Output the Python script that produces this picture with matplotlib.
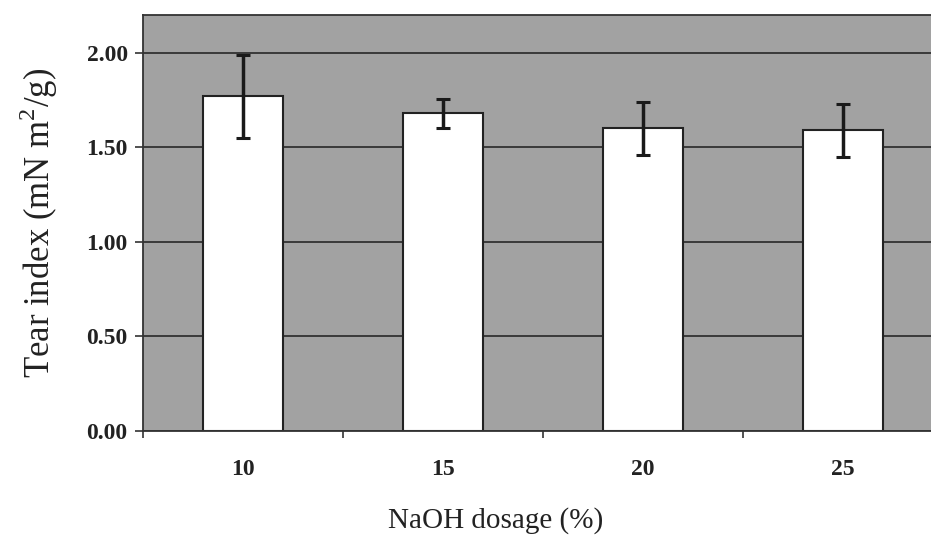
#!/usr/bin/env python3
# -*- coding: utf-8 -*-

import numpy as np
import matplotlib
matplotlib.use('Agg')
import matplotlib.pyplot as plt
from matplotlib.ticker import FixedLocator

# data
dosage = ['10', '15', '20', '25']
tear_index = [1.77, 1.68, 1.60, 1.59]
tear_err = [0.22, 0.075, 0.14, 0.14]
y_ticks = [0.0, 0.5, 1.0, 1.5, 2.0]


def main():
    plt.rcParams['font.family'] = ['Liberation Serif', 'DejaVu Serif']
    plt.rcParams['mathtext.fontset'] = 'custom'
    plt.rcParams['mathtext.rm'] = 'Liberation Serif'

    fig = plt.figure(figsize=(9.31, 5.42), dpi=100)
    ax = fig.add_axes([143 / 931, 111 / 542, 1 - 143 / 931, 416 / 542])
    ax.set_facecolor('#a2a2a2')

    x = np.arange(len(dosage))
    ax.set_axisbelow(True)
    ax.yaxis.grid(True, color='#1e1e1e', lw=1.1)
    ax.bar(x, tear_index, width=0.4, color='white', edgecolor='#222222',
           lw=1.5, zorder=2)
    ax.errorbar(x, tear_index, yerr=tear_err, fmt='none', ecolor='#1a1a1a',
                elinewidth=2.5, capsize=5, capthick=2.2, zorder=3)

    ax.set_xlim(-0.5, -0.5 + (931 - 143) / 200)
    ax.set_ylim(0, 2.2)
    ax.set_yticks(y_ticks)
    ax.set_yticklabels(['%.2f' % v for v in y_ticks], fontsize=17,
                       fontweight='bold', color='#222222')
    ax.set_xticks(x)
    ax.set_xticklabels(dosage, fontsize=17, fontweight='bold',
                       color='#222222')
    ax.xaxis.set_minor_locator(FixedLocator([-0.5, 0.5, 1.5, 2.5]))
    ax.tick_params(axis='x', which='major', length=0, pad=20)
    ax.tick_params(axis='x', which='minor', length=5, width=1.2,
                   color='#333333', direction='out')
    ax.tick_params(axis='y', length=6, width=1.2, color='#333333', pad=5)

    for s in ['left', 'bottom', 'top']:
        ax.spines[s].set_color('#333333')
        ax.spines[s].set_linewidth(1.3)
    ax.spines['right'].set_visible(False)

    ax.set_ylabel('Tear index (mN m$^\\mathregular{2}$/g)', fontsize=25,
                  color='#222222', labelpad=19)
    ax.set_xlabel('NaOH dosage (%)', fontsize=21, color='#222222',
                  labelpad=20)
    ax.xaxis.label.set_x(0.448)

    fig.savefig('out.png', dpi=100)


if __name__ == '__main__':
    main()
